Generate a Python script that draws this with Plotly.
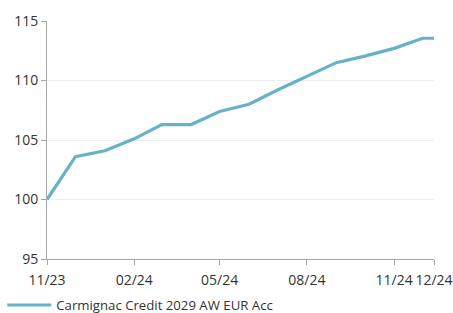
import plotly.graph_objects as go

dates = ["2023-11-01", "2023-12-01", "2024-01-01", "2024-02-01", "2024-03-01",
         "2024-04-01", "2024-05-01", "2024-06-01", "2024-07-01", "2024-08-01",
         "2024-09-01", "2024-10-01", "2024-11-01", "2024-12-01", "2024-12-13"]
values = [100.0, 103.6, 104.1, 105.1, 106.3, 106.3, 107.4, 108.0, 109.2, 110.35,
          111.5, 112.05, 112.7, 113.55, 113.55]
series_name = "Carmignac Credit 2029 AW EUR Acc"
tick_dates = ["2023-11-01", "2024-02-01", "2024-05-01", "2024-08-01", "2024-11-01", "2024-12-13"]
tick_text = ["11/23", "02/24", "05/24", "08/24", "11/24", "12/24"]
y_ticks = [95, 100, 105, 110, 115]

FONT = "Open Sans"
TXT = "#333333"
AX = "#a6a6a6"

fig = go.Figure()
fig.add_trace(go.Scatter(
    x=dates, y=values, mode="lines", name=series_name,
    line=dict(color="#68b2c8", width=3.2), showlegend=True,
))

fig.update_layout(
    width=453, height=313,
    margin=dict(l=47, r=19, t=21, b=54, autoexpand=False),
    paper_bgcolor="white", plot_bgcolor="white",
    font=dict(family=FONT, size=14, color=TXT),
    showlegend=True,
    legend=dict(orientation="h", xref="container", yref="paper",
                x=0.005, y=-0.195, xanchor="left", yanchor="middle",
                font=dict(family=FONT, size=13.2, color=TXT),
                bgcolor="rgba(0,0,0,0)", itemwidth=44),
    xaxis=dict(
        type="date", range=[dates[0], dates[-1]],
        tickvals=tick_dates, ticktext=tick_text, automargin=False,
        showgrid=False, zeroline=False,
        showline=True, linecolor=AX, linewidth=1,
        ticks="outside", ticklen=5, tickcolor=AX, tickwidth=1,
        ticklabelstandoff=3,
        tickfont=dict(family=FONT, size=14, color=TXT),
    ),
    yaxis=dict(
        range=[95, 115], tickvals=y_ticks, automargin=False,
        showgrid=True, gridcolor="#efefef", gridwidth=1, zeroline=False,
        showline=True, linecolor=AX, linewidth=1,
        ticks="outside", ticklen=5, tickcolor=AX, tickwidth=1,
        tickfont=dict(family=FONT, size=14, color=TXT),
    ),
)

fig.write_html("out.html", config={"displayModeBar": False},
               post_script=["document.body.style.margin='0px';document.body.style.overflow='hidden';"])
